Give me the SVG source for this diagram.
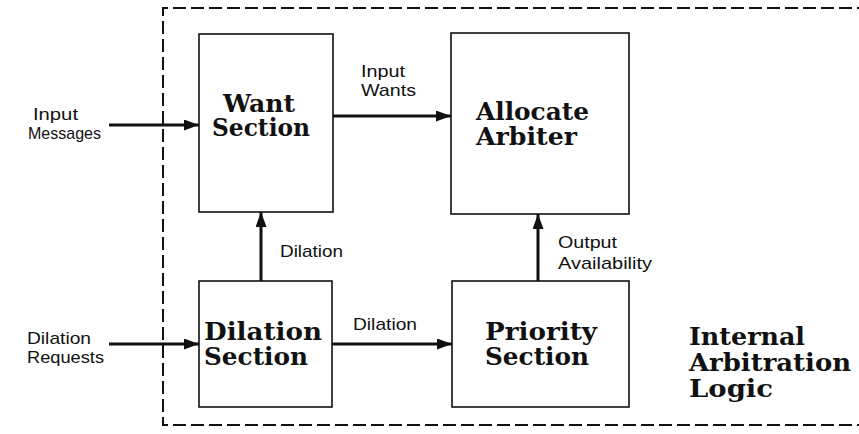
<svg xmlns="http://www.w3.org/2000/svg" width="859" height="434" viewBox="0 0 859 434">
<style>
.box{fill:#fff;stroke:#111;stroke-width:1.6}
.lbl{font-family:"Liberation Sans",Arial,sans-serif;font-size:17px;fill:#111}
.ttl{font-family:"DejaVu Serif","Liberation Serif",serif;font-weight:bold;font-size:25px;fill:#111}
.conn{stroke:#111;stroke-width:3;fill:none}
.border{fill:none;stroke:#111;stroke-width:2;stroke-dasharray:13 5}
</style>
<defs>
<marker id="ah" markerUnits="userSpaceOnUse" markerWidth="15" markerHeight="11" refX="15" refY="5.5" orient="auto">
<path d="M0,0 L15,5.5 L0,11 z" fill="#111"/>
</marker>
</defs>
<rect width="859" height="434" fill="#fff"/>
<path class="border" d="M870 8 H163 V425 H870"/>
<g id="want">
<rect class="box" x="199" y="34" width="134" height="178"/>
<text class="ttl" x="223" y="112" textLength="72" lengthAdjust="spacingAndGlyphs">Want</text>
<text class="ttl" x="212" y="136" textLength="98" lengthAdjust="spacingAndGlyphs">Section</text>
</g>
<g id="allocate">
<rect class="box" x="451" y="33" width="178" height="181"/>
<text class="ttl" x="476" y="120" textLength="113" lengthAdjust="spacingAndGlyphs">Allocate</text>
<text class="ttl" x="476" y="145" textLength="101" lengthAdjust="spacingAndGlyphs">Arbiter</text>
</g>
<g id="dilation">
<rect class="box" x="199" y="281" width="133" height="126"/>
<text class="ttl" x="204" y="340" textLength="118" lengthAdjust="spacingAndGlyphs">Dilation</text>
<text class="ttl" x="204" y="365" textLength="104" lengthAdjust="spacingAndGlyphs">Section</text>
</g>
<g id="priority">
<rect class="box" x="452" y="281" width="177" height="126"/>
<text class="ttl" x="485" y="340" textLength="112" lengthAdjust="spacingAndGlyphs">Priority</text>
<text class="ttl" x="485" y="365" textLength="104" lengthAdjust="spacingAndGlyphs">Section</text>
</g>
<g id="internal-label">
<text class="ttl" x="689" y="345" textLength="116" lengthAdjust="spacingAndGlyphs">Internal</text>
<text class="ttl" x="689" y="371" textLength="162" lengthAdjust="spacingAndGlyphs">Arbitration</text>
<text class="ttl" x="689" y="397" textLength="84" lengthAdjust="spacingAndGlyphs">Logic</text>
</g>
<g id="connectors">
<line class="conn" x1="109" y1="125" x2="199" y2="125" marker-end="url(#ah)"/>
<line class="conn" x1="109" y1="344" x2="199" y2="344" marker-end="url(#ah)"/>
<line class="conn" x1="333" y1="116" x2="451" y2="116" marker-end="url(#ah)"/>
<line class="conn" x1="332" y1="344" x2="452" y2="344" marker-end="url(#ah)"/>
<line class="conn" x1="261" y1="281" x2="261" y2="212" marker-end="url(#ah)"/>
<line class="conn" x1="538" y1="281" x2="538" y2="214" marker-end="url(#ah)"/>
<text class="lbl" x="33" y="120" textLength="45" lengthAdjust="spacingAndGlyphs">Input</text>
<text class="lbl" x="28" y="139" textLength="73" lengthAdjust="spacingAndGlyphs">Messages</text>
<text class="lbl" x="27" y="344" textLength="64" lengthAdjust="spacingAndGlyphs">Dilation</text>
<text class="lbl" x="27" y="363" textLength="77" lengthAdjust="spacingAndGlyphs">Requests</text>
<text class="lbl" x="361" y="77" textLength="44" lengthAdjust="spacingAndGlyphs">Input</text>
<text class="lbl" x="361" y="96" textLength="55" lengthAdjust="spacingAndGlyphs">Wants</text>
<text class="lbl" x="280" y="257" textLength="63" lengthAdjust="spacingAndGlyphs">Dilation</text>
<text class="lbl" x="353" y="330" textLength="64" lengthAdjust="spacingAndGlyphs">Dilation</text>
<text class="lbl" x="558" y="248" textLength="59" lengthAdjust="spacingAndGlyphs">Output</text>
<text class="lbl" x="558" y="269" textLength="94" lengthAdjust="spacingAndGlyphs">Availability</text>
</g>
</svg>
